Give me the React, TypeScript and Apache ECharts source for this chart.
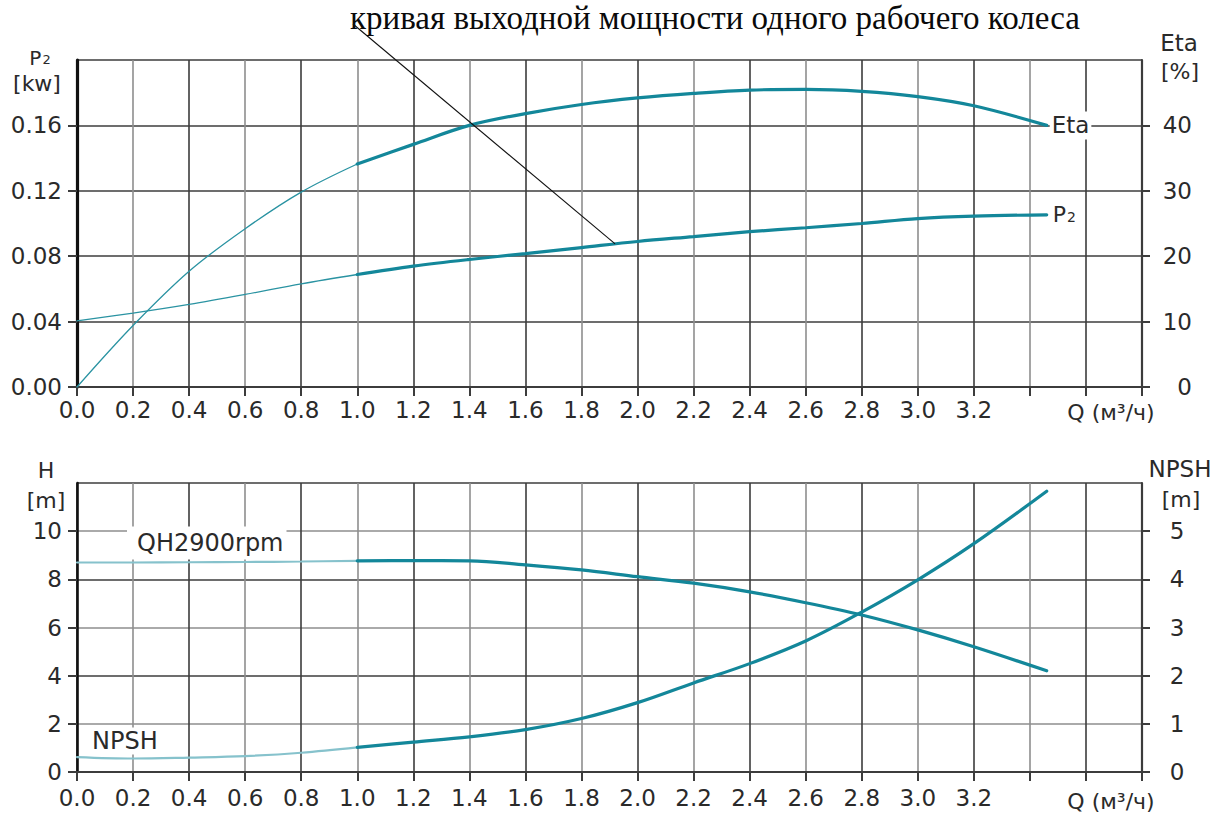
import React, { useEffect, useRef } from "react";
import * as echarts from "echarts";

// ---- data ----
const qPoints = [0, 0.2, 0.4, 0.6, 0.8, 1.0, 1.2, 1.4, 1.6, 1.8, 2.0, 2.2, 2.4, 2.6, 2.8, 3.0, 3.2, 3.46];
const etaValues = [0, 9.4, 17.7, 24.2, 29.8, 34.1, 37.1, 40.0, 41.8, 43.2, 44.2, 44.9, 45.4, 45.5, 45.2, 44.4, 43.0, 40.0];
const p2Values = [0.0405, 0.0452, 0.0505, 0.0566, 0.0631, 0.0688, 0.0739, 0.078, 0.0816, 0.0853, 0.089, 0.092, 0.095, 0.0974, 0.1, 0.103, 0.1045, 0.1053];
const headValues = [8.7, 8.7, 8.71, 8.72, 8.74, 8.77, 8.78, 8.77, 8.6, 8.39, 8.11, 7.84, 7.48, 7.03, 6.52, 5.9, 5.2, 4.2];
const npshValues = [0.31, 0.28, 0.3, 0.33, 0.4, 0.51, 0.62, 0.73, 0.88, 1.11, 1.44, 1.85, 2.25, 2.72, 3.32, 3.99, 4.74, 5.83];

const thinUntilQ = 1.0; // curves are drawn thin below this flow
const annotationTarget = [1.92, 0.0875]; // where the title's pointer meets the P2 curve

// axis scales
const qAxis = { min: 0, max: 3.8, step: 0.2, lastLabel: 3.2 };
const p2Axis = { min: 0, max: 0.2, step: 0.04 };
const etaAxis = { min: 0, max: 50, step: 10 };
const hAxis = { min: 0, max: 12, step: 2 };
const npshAxis = { min: 0, max: 6, step: 1 };

const titleText = "кривая выходной мощности одного рабочего колеса";
const qName = "Q (м³/ч)";

const FONT = '"DejaVu Sans", "Liberation Sans", Arial, sans-serif';
const SERIF = '"Liberation Serif", "Times New Roman", serif';
const TEAL = "#13879a";
const TEAL_THIN = "#2a93a2";
const TEAL_PALE = "#86c2cc";
const DARK = "#3c3c3c";
const GREY = "#8e8e8e";
const TXT = "#2a2a2a";

function segment(values: number[], lower: boolean) {
  const out: number[][] = [];
  qPoints.forEach((q, i) => {
    if (lower ? q <= thinUntilQ : q >= thinUntilQ) out.push([q, values[i]]);
  });
  return out;
}

function xAxisDef(gridIndex: number, margin: number) {
  return {
    type: "value",
    gridIndex,
    min: qAxis.min,
    max: qAxis.max,
    interval: qAxis.step,
    axisLine: { show: true, onZero: false, lineStyle: { color: DARK, width: 2 } },
    axisTick: { show: true, length: 9, lineStyle: { color: DARK, width: 2 } },
    axisLabel: {
      margin,
      fontSize: 23,
      fontFamily: FONT,
      color: TXT,
      formatter: (v: number) => (v <= qAxis.lastLabel + 1e-6 ? v.toFixed(1) : ""),
    },
    splitLine: { show: true, lineStyle: { color: [DARK, GREY], width: 1.6 } },
  };
}

function leftYDef(gridIndex: number, ax: any, decimals: number, lineW: number, split: string[]) {
  return {
    type: "value",
    gridIndex,
    position: "left",
    min: ax.min,
    max: ax.max,
    interval: ax.step,
    axisLine: { show: true, onZero: false, lineStyle: { color: "#111", width: lineW } },
    axisTick: { show: true, length: 9, lineStyle: { color: DARK, width: 2 } },
    axisLabel: {
      margin: 15,
      fontSize: 23,
      fontFamily: FONT,
      color: TXT,
      showMaxLabel: false,
      formatter: (v: number) => v.toFixed(decimals),
    },
    splitLine: { show: true, lineStyle: { color: split, width: 1.6 } },
  };
}

function rightYDef(gridIndex: number, ax: any, align: string, margin: number) {
  return {
    type: "value",
    gridIndex,
    position: "right",
    min: ax.min,
    max: ax.max,
    interval: ax.step,
    axisLine: { show: true, onZero: false, lineStyle: { color: DARK, width: 2.2 } },
    axisTick: { show: true, length: 8, lineStyle: { color: DARK, width: 2 } },
    axisLabel: {
      margin,
      align,
      fontSize: 23,
      fontFamily: FONT,
      color: TXT,
      showMaxLabel: false,
    },
    splitLine: { show: false },
  };
}

function lineSeries(name: string, data: number[][], x: number, y: number, color: string, width: number, extra: any = {}) {
  return {
    type: "line",
    name,
    xAxisIndex: x,
    yAxisIndex: y,
    data,
    smooth: 0.35,
    symbol: "none",
    silent: true,
    lineStyle: { color, width, cap: "round" },
    z: 5,
    ...extra,
  };
}

function labelText(text: string, x: number, y: number, size: number, align = "center", extra: any = {}) {
  return {
    type: "text",
    z: 50,
    style: {
      text,
      x,
      y,
      fontSize: size,
      fontFamily: FONT,
      fill: TXT,
      align,
      verticalAlign: "middle",
      ...extra,
    },
  };
}

export default function App() {
  const ref = useRef<HTMLDivElement>(null);

  useEffect(() => {
    if (!ref.current) return;
    const chart = echarts.init(ref.current, undefined, { renderer: "svg" });

    const option: any = {
      animation: false,
      backgroundColor: "#ffffff",
      grid: [
        { left: 77, right: 88, top: 60, height: 327 },
        { left: 77, right: 88, top: 483, height: 289 },
      ],
      xAxis: [xAxisDef(0, 11), xAxisDef(1, 14)],
      yAxis: [
        leftYDef(0, p2Axis, 2, 3.2, [DARK]),
        rightYDef(0, etaAxis, "right", 50),
        leftYDef(1, hAxis, 0, 2.6, [DARK, GREY]),
        rightYDef(1, npshAxis, "center", 35),
      ],
      series: [
        lineSeries("Eta thin", segment(etaValues, true), 0, 1, TEAL_THIN, 1.3),
        lineSeries("Eta", segment(etaValues, false), 0, 1, TEAL, 3.2, {
          endLabel: {
            show: true,
            formatter: "Eta",
            distance: 3,
            fontSize: 23,
            fontFamily: FONT,
            color: TXT,
            backgroundColor: "#fff",
            padding: [3, 2, 2, 2],
          },
        }),
        lineSeries("P2 thin", segment(p2Values, true), 0, 0, TEAL_THIN, 1.3),
        lineSeries("P2", segment(p2Values, false), 0, 0, TEAL, 3.2, {
          endLabel: {
            show: true,
            formatter: "{a|P}{b|2}",
            distance: 4,
            color: TXT,
            backgroundColor: "#fff",
            padding: [2, 2, 2, 2],
            rich: {
              a: { fontSize: 22, fontFamily: FONT, color: TXT, lineHeight: 22, verticalAlign: "bottom" },
              b: { fontSize: 14, fontFamily: FONT, color: TXT, lineHeight: 14, verticalAlign: "bottom", padding: [0, 0, 2, 1] },
            },
          },
        }),
        lineSeries("QH thin", segment(headValues, true), 1, 2, TEAL_PALE, 2.2),
        lineSeries("QH", segment(headValues, false), 1, 2, TEAL, 3.2),
        lineSeries("NPSH thin", segment(npshValues, true), 1, 3, TEAL_PALE, 2.2),
        lineSeries("NPSH", segment(npshValues, false), 1, 3, TEAL, 3.2),
      ],
    };

    chart.setOption(option);

    const end = chart.convertToPixel({ xAxisIndex: 0, yAxisIndex: 0 }, annotationTarget) as number[];

    const graphics: any[] = [
      {
        type: "text",
        z: 40,
        style: {
          text: titleText,
          x: 350,
          y: 18,
          fontSize: 33,
          fontFamily: SERIF,
          fill: "#0a0a0a",
          align: "left",
          verticalAlign: "middle",
        },
      },
      {
        type: "line",
        z: 45,
        shape: { x1: 353, y1: 24, x2: end[0], y2: end[1] },
        style: { stroke: "#111", lineWidth: 1.1 },
      },
      // axis titles, top chart
      {
        type: "text",
        z: 50,
        style: {
          text: "{a|P}{b|2}",
          x: 40,
          y: 58,
          align: "center",
          verticalAlign: "middle",
          rich: {
            a: { fontSize: 20, fontFamily: FONT, fill: TXT, lineHeight: 20, verticalAlign: "bottom" },
            b: { fontSize: 13, fontFamily: FONT, fill: TXT, lineHeight: 13, verticalAlign: "bottom", padding: [0, 0, 2, 1] },
          },
        },
      },
      labelText("[kw]", 37, 83, 22),
      labelText("Eta", 1179, 43, 23),
      labelText("[%]", 1180, 71, 22),
      labelText(qName, 1111, 412, 22),
      // axis titles, bottom chart
      labelText("H", 46, 470, 22),
      labelText("[m]", 46, 500, 22),
      labelText("NPSH", 1180, 469, 23),
      labelText("[m]", 1181, 499, 22),
      labelText(qName, 1111, 801, 22),
      // curve labels
      labelText("QH2900rpm", 127, 543, 24, "left", { backgroundColor: "#fff", padding: [6, 3, 3, 10] }),
      labelText("NPSH", 88, 741, 24, "left", { backgroundColor: "#fff", padding: [3, 4, 0, 4] }),
    ];

    chart.setOption({ graphic: graphics });

    return () => chart.dispose();
  }, []);

  return (
    <div
      ref={ref}
      style={{ position: "fixed", left: 0, top: 0, width: 1230, height: 821, background: "#fff" }}
    />
  );
}
